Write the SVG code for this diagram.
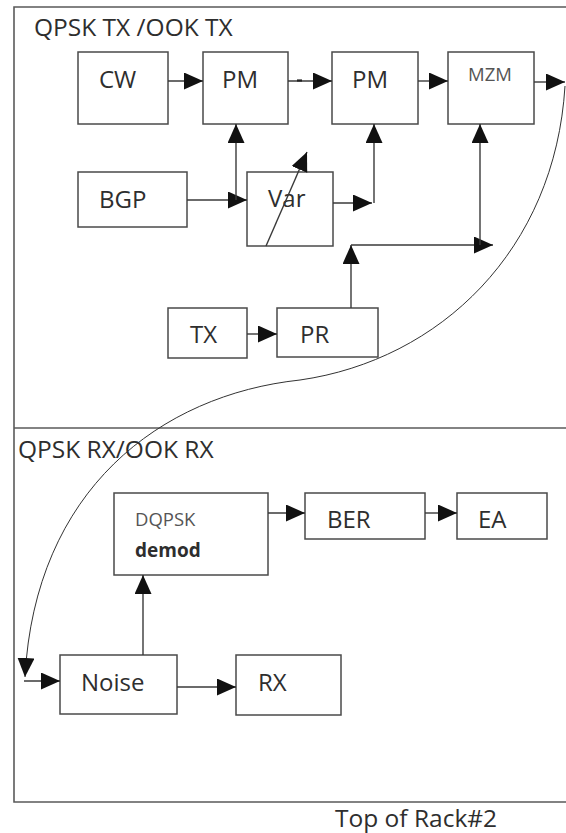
<svg xmlns="http://www.w3.org/2000/svg" width="566" height="833" viewBox="0 0 566 833">
<defs>
<style>
.frame{fill:none;stroke:#5a5a5a;stroke-width:1.6}
.box{fill:#fff;stroke:#4a4a4a;stroke-width:1.5}
.t{font-family:"Open Sans","Liberation Sans",sans-serif;fill:#2e2e2e}
.big{font-size:24px}
.hd{font-size:24.5px}
.small{font-size:18.5px;fill:#555}
.ln{fill:none;stroke:#3a3a3a;stroke-width:1.4}
.cv{fill:none;stroke:#333;stroke-width:1}
</style>
<marker id="ah" markerUnits="userSpaceOnUse" markerWidth="20" markerHeight="18" refX="19" refY="8.5" orient="auto">
<path d="M0,0 L19,8.5 L0,17 z" fill="#111"/>
</marker>
</defs>
<rect width="566" height="833" fill="#fff"/>
<g id="frame">
<path class="frame" d="M566,7 H14 V802 H566"/>
<line class="frame" x1="14" y1="428" x2="566" y2="428"/>
<text class="t hd" x="34" y="36">QPSK TX /OOK TX</text>
<text class="t hd" x="18" y="458">QPSK RX/OOK RX</text>
<text class="t hd" x="335" y="827">Top of Rack#2</text>
</g>
<g id="cw"><rect class="box" x="78" y="52" width="90" height="72"/><text class="t big" x="99" y="88">CW</text></g>
<g id="pm1"><rect class="box" x="203" y="52" width="85" height="72"/><text class="t big" x="222" y="88">PM</text></g>
<g id="pm2"><rect class="box" x="332" y="52" width="86" height="72"/><text class="t big" x="352" y="88">PM</text></g>
<g id="mzm"><rect class="box" x="448" y="52" width="86" height="72"/><text class="t small" x="468" y="81">MZM</text></g>
<g id="bgp"><rect class="box" x="78" y="172" width="109" height="55"/><text class="t big" x="99" y="208">BGP</text></g>
<g id="var"><rect class="box" x="247" y="172" width="86" height="74"/><text class="t big" x="268" y="207">Var</text></g>
<g id="tx"><rect class="box" x="168" y="308" width="79" height="50"/><text class="t big" x="190" y="343">TX</text></g>
<g id="pr"><rect class="box" x="277" y="308" width="101" height="49"/><text class="t big" x="300" y="343">PR</text></g>
<g id="dqpsk"><rect class="box" x="114" y="493" width="154" height="82"/><text class="t small" x="135" y="526" font-size="19">DQPSK</text><text class="t" x="135" y="557" font-size="19" font-weight="bold">demod</text></g>
<g id="ber"><rect class="box" x="305" y="493" width="120" height="46"/><text class="t big" x="327" y="528">BER</text></g>
<g id="ea"><rect class="box" x="457" y="493" width="90" height="46"/><text class="t big" x="478" y="528">EA</text></g>
<g id="noise"><rect class="box" x="60" y="655" width="117" height="59"/><text class="t big" x="81" y="691">Noise</text></g>
<g id="rx"><rect class="box" x="236" y="655" width="105" height="60"/><text class="t big" x="258" y="691">RX</text></g>
<g id="connectors">
<line class="ln" x1="168" y1="81" x2="203" y2="81" marker-end="url(#ah)"/>
<line class="ln" x1="288" y1="81" x2="332" y2="81" marker-end="url(#ah)"/>
<line x1="297" y1="80.5" x2="302" y2="80.5" stroke="#222" stroke-width="2.2"/>
<line class="ln" x1="418" y1="81" x2="448" y2="81" marker-end="url(#ah)"/>
<line class="ln" x1="534" y1="82" x2="565" y2="82" marker-end="url(#ah)"/>
<line class="ln" x1="187" y1="200" x2="247" y2="200" marker-end="url(#ah)"/>
<line class="ln" x1="236" y1="200" x2="236" y2="124" marker-end="url(#ah)"/>
<line class="ln" x1="266" y1="246" x2="307" y2="152" marker-end="url(#ah)"/>
<line class="ln" x1="333" y1="203" x2="372" y2="203" marker-end="url(#ah)"/>
<line class="ln" x1="374" y1="203" x2="374" y2="124" marker-end="url(#ah)"/>
<line class="ln" x1="351" y1="308" x2="351" y2="245" marker-end="url(#ah)"/>
<line class="ln" x1="351" y1="245" x2="493" y2="245" marker-end="url(#ah)"/>
<line class="ln" x1="480" y1="245" x2="480" y2="124" marker-end="url(#ah)"/>
<line class="ln" x1="247" y1="334" x2="277" y2="334" marker-end="url(#ah)"/>
<path class="cv" d="M565,86 C555,250 440,360 300,380 C160,395 35,490 25,677" marker-end="url(#ah)"/>
<line class="ln" x1="24" y1="681" x2="60" y2="681" marker-end="url(#ah)"/>
<line class="ln" x1="177" y1="687" x2="236" y2="687" marker-end="url(#ah)"/>
<line class="ln" x1="143" y1="655" x2="143" y2="575" marker-end="url(#ah)"/>
<line class="ln" x1="268" y1="513" x2="305" y2="513" marker-end="url(#ah)"/>
<line class="ln" x1="425" y1="513" x2="457" y2="513" marker-end="url(#ah)"/>
</g>
</svg>
